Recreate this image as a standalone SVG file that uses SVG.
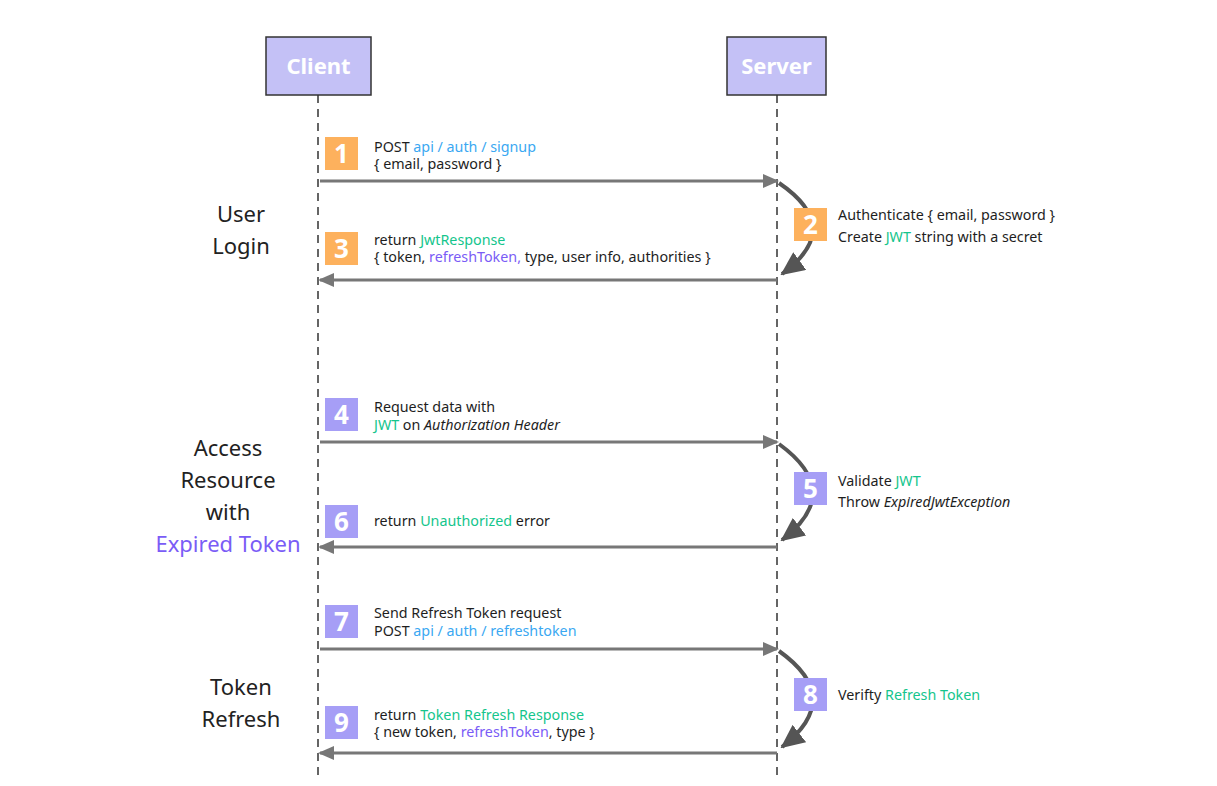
<svg xmlns="http://www.w3.org/2000/svg" width="1217" height="786" viewBox="0 0 1217 786">
<defs>
<style>
.actor{fill:#c4c1f6;stroke:#333;stroke-width:1.5}
.actorText{font-family:"Noto Sans","Liberation Sans",sans-serif;font-size:22px;font-weight:bold;fill:#fff;text-anchor:middle}
.life{stroke:#333;stroke-width:1.5;stroke-dasharray:8 6;fill:none}
.msg{stroke:#777;stroke-width:3;fill:none}
.self{stroke:#555;stroke-width:4;fill:none}
.t{font-family:"Noto Sans","Liberation Sans",sans-serif;font-size:14.3px;fill:#1e1e1e}
.sec{font-family:"Noto Sans","Liberation Sans",sans-serif;font-size:22px;fill:#222;text-anchor:middle}
.num{font-family:"Noto Sans","Liberation Sans",sans-serif;font-size:26px;font-weight:bold;fill:#fff;text-anchor:middle}
.or{fill:#fdb15d}
.pu{fill:#a69ef6}
.blue{fill:#3aa8f2}
.green{fill:#14c58c}
.purple{fill:#7a5cf6}
</style>
<marker id="ah" markerUnits="userSpaceOnUse" markerWidth="16" markerHeight="14" refX="14" refY="7" orient="auto">
<path d="M0,0 L16,7 L0,14 Z" fill="#777"/>
</marker>
<marker id="ah2" markerUnits="userSpaceOnUse" markerWidth="24" markerHeight="22" refX="22" refY="11" orient="auto">
<path d="M0,0 L24,11 L0,22 Z" fill="#555"/>
</marker>
</defs>
<rect width="1217" height="786" fill="#fff"/>

<g id="lifelines">
<line class="life" x1="318" y1="95" x2="318" y2="775"/>
<line class="life" x1="777" y1="95" x2="777" y2="775"/>
</g>

<g id="client">
<rect class="actor" x="266" y="37" width="105" height="58"/>
<text class="actorText" x="318.5" y="74">Client</text>
</g>
<g id="server">
<rect class="actor" x="727" y="37" width="99" height="58"/>
<text class="actorText" x="776.5" y="74">Server</text>
</g>

<g id="connectors">
<line class="msg" x1="320" y1="181" x2="777" y2="181" marker-end="url(#ah)"/>
<path class="self" d="M779,183 Q845,228 782,274" marker-end="url(#ah2)"/>
<line class="msg" x1="777" y1="280" x2="320" y2="280" marker-end="url(#ah)"/>

<line class="msg" x1="320" y1="442" x2="777" y2="442" marker-end="url(#ah)"/>
<path class="self" d="M779,444 Q845,492 782,540" marker-end="url(#ah2)"/>
<line class="msg" x1="777" y1="547" x2="320" y2="547" marker-end="url(#ah)"/>

<line class="msg" x1="320" y1="649" x2="777" y2="649" marker-end="url(#ah)"/>
<path class="self" d="M779,651 Q845,698 782,747" marker-end="url(#ah2)"/>
<line class="msg" x1="777" y1="753" x2="320" y2="753" marker-end="url(#ah)"/>
</g>

<g id="section-login">
<text class="sec" x="241" y="222">User</text>
<text class="sec" x="241" y="254">Login</text>
</g>
<g id="section-access">
<text class="sec" x="228" y="456">Access</text>
<text class="sec" x="228" y="488">Resource</text>
<text class="sec" x="228" y="520">with</text>
<text class="sec purple" x="228" y="552">Expired Token</text>
</g>
<g id="section-refresh">
<text class="sec" x="241" y="695">Token</text>
<text class="sec" x="241" y="727">Refresh</text>
</g>

<g id="step1">
<rect class="or" x="325" y="137" width="33" height="33"/>
<text class="num" x="341.5" y="163">1</text>
<text class="t" x="374" y="152">POST <tspan class="blue">api / auth / signup</tspan></text>
<text class="t" x="374" y="169">{ email, password }</text>
</g>
<g id="step2">
<rect class="or" x="794" y="208" width="33" height="33"/>
<text class="num" x="810.5" y="234">2</text>
<text class="t" x="838" y="220">Authenticate { email, password }</text>
<text class="t" x="838" y="242">Create <tspan class="green">JWT</tspan> string with a secret</text>
</g>
<g id="step3">
<rect class="or" x="325" y="232" width="33" height="33"/>
<text class="num" x="341.5" y="258">3</text>
<text class="t" x="374" y="245">return <tspan class="green">JwtResponse</tspan></text>
<text class="t" x="374" y="262">{ token, <tspan class="purple">refreshToken,</tspan> type, user info, authorities }</text>
</g>

<g id="step4">
<rect class="pu" x="325" y="398" width="33" height="33"/>
<text class="num" x="341.5" y="424">4</text>
<text class="t" x="374" y="412">Request data with</text>
<text class="t" x="374" y="430"><tspan class="green">JWT</tspan> on <tspan font-style="italic">Authorization Header</tspan></text>
</g>
<g id="step5">
<rect class="pu" x="794" y="472" width="33" height="33"/>
<text class="num" x="810.5" y="498">5</text>
<text class="t" x="838" y="486">Validate <tspan class="green">JWT</tspan></text>
<text class="t" x="838" y="507">Throw <tspan font-style="italic">ExpiredJwtException</tspan></text>
</g>
<g id="step6">
<rect class="pu" x="325" y="505" width="33" height="33"/>
<text class="num" x="341.5" y="531">6</text>
<text class="t" x="374" y="526">return <tspan class="green">Unauthorized</tspan> error</text>
</g>

<g id="step7">
<rect class="pu" x="325" y="605" width="33" height="33"/>
<text class="num" x="341.5" y="631">7</text>
<text class="t" x="374" y="618">Send Refresh Token request</text>
<text class="t" x="374" y="636">POST <tspan class="blue">api / auth / refreshtoken</tspan></text>
</g>
<g id="step8">
<rect class="pu" x="794" y="678" width="33" height="33"/>
<text class="num" x="810.5" y="704">8</text>
<text class="t" x="838" y="700">Verifty <tspan class="green">Refresh Token</tspan></text>
</g>
<g id="step9">
<rect class="pu" x="325" y="706" width="33" height="33"/>
<text class="num" x="341.5" y="732">9</text>
<text class="t" x="374" y="720">return <tspan class="green">Token Refresh Response</tspan></text>
<text class="t" x="374" y="737">{ new token, <tspan class="purple">refreshToken</tspan>, type }</text>
</g>
</svg>
